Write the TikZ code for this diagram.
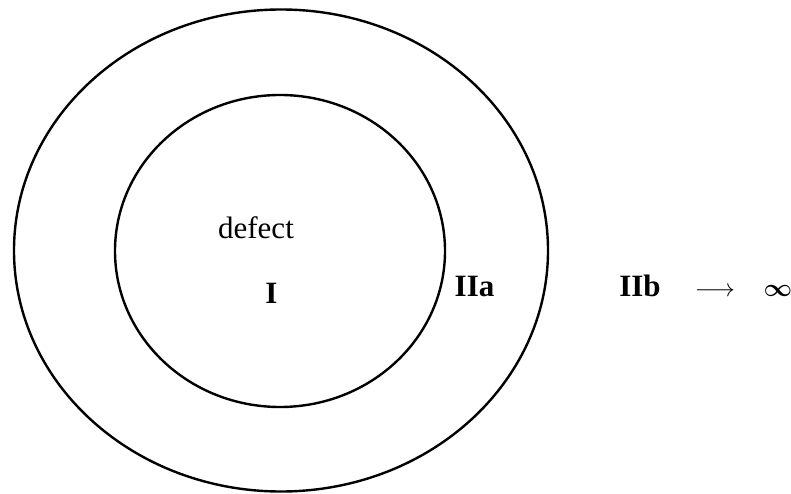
\documentclass[tikz,border=0pt]{standalone}
\usepackage{amsmath}
\usepackage{fontspec}
\setmainfont{Liberation Serif}
\tikzset{
  ring/.style={draw=black, line width=2.4pt},
  lbl/.style={inner sep=0pt, anchor=base, font=\fontsize{31}{36}\selectfont},
  blbl/.style={lbl, font=\fontsize{31}{36}\selectfont\bfseries}
}
\begin{document}
\begin{tikzpicture}[x=1pt,y=-1pt]
\useasboundingbox (0,0) rectangle (791,494);
\draw[ring] (281,250.5) ellipse [x radius=267, y radius=241];
\draw[ring] (280,251) ellipse [x radius=165, y radius=156];
\node[lbl] (defect) at (256,238) {defect};
\node[blbl] (I) at (271.5,303) {I};
\node[blbl] (IIa) at (474.5,296) {IIa};
\node[blbl] (IIb) at (640,296) {IIb};
\node[lbl] (arr) at (715,296) {$\longrightarrow$};
\node[lbl] (inf) at (778,296) {$\boldsymbol{\infty}$};
\end{tikzpicture}
\end{document}
